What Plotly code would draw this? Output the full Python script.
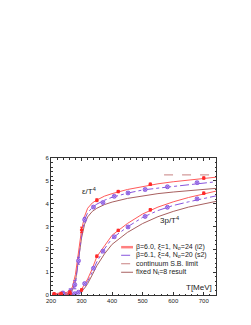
import plotly.graph_objects as go

# ---- data ----
T_red = [210, 233, 262, 300, 350, 420, 525, 700]
eps_red = [0.05, 0.07, 0.12, 2.85, 4.15, 4.53, 4.85, 5.12]
eps_red_err = [0.05, 0.05, 0.06, 0.12, 0.06, 0.05, 0.05, 0.05]
p_red = [0.0, 0.01, 0.03, 0.22, 1.70, 2.83, 3.73, 4.46]
p_red_err = [0.03, 0.03, 0.03, 0.05, 0.05, 0.05, 0.05, 0.05]

T_pur = [239, 263, 278, 290, 310, 339, 370, 407, 452, 508, 581, 678]
eps_pur = [0.08, 0.15, 0.45, 1.50, 3.30, 3.85, 4.05, 4.32, 4.47, 4.62, 4.74, 4.92]
eps_pur_err = [0.08, 0.12, 0.18, 0.15, 0.1, 0.06, 0.05, 0.05, 0.05, 0.05, 0.05, 0.05]
p_pur = [0.01, 0.03, 0.06, 0.12, 0.50, 1.17, 1.92, 2.55, 2.98, 3.44, 3.84, 4.21]
p_pur_err = [0.03, 0.03, 0.04, 0.04, 0.05, 0.05, 0.05, 0.05, 0.05, 0.05, 0.05, 0.05]

T_line = [205, 230, 250, 260, 270, 280, 290, 300, 310, 320, 335, 350, 375, 400, 450, 500, 550, 600, 650, 700, 740]
eps_red_line = [0.05, 0.07, 0.11, 0.16, 0.35, 0.9, 1.95, 2.85, 3.45, 3.8, 4.03, 4.16, 4.33, 4.44, 4.62, 4.76, 4.87, 4.96, 5.04, 5.11, 5.16]
eps_pur_line = [0.05, 0.07, 0.1, 0.14, 0.26, 0.5, 1.5, 2.6, 3.3, 3.6, 3.83, 3.98, 4.15, 4.28, 4.46, 4.6, 4.68, 4.75, 4.83, 4.9, 4.96]
eps_nt8_line = [0.02, 0.03, 0.05, 0.08, 0.2, 0.6, 1.5, 2.5, 3.1, 3.42, 3.66, 3.8, 3.96, 4.07, 4.23, 4.35, 4.44, 4.51, 4.57, 4.63, 4.67]
p_red_line = [0.0, 0.01, 0.02, 0.03, 0.05, 0.09, 0.15, 0.25, 0.45, 0.7, 1.15, 1.68, 2.15, 2.62, 3.13, 3.55, 3.85, 4.08, 4.27, 4.44, 4.55]
p_pur_line = [0.0, 0.01, 0.02, 0.03, 0.04, 0.07, 0.12, 0.2, 0.38, 0.6, 1.0, 1.45, 2.02, 2.48, 2.98, 3.4, 3.7, 3.92, 4.08, 4.24, 4.34]
p_nt8_line = [0.0, 0.0, 0.01, 0.02, 0.03, 0.05, 0.09, 0.16, 0.3, 0.5, 0.88, 1.28, 1.8, 2.22, 2.74, 3.13, 3.43, 3.66, 3.85, 4.0, 4.1]

T_sb = [570, 740]
eps_sb = [5.26, 5.26]

RED = "#ff2a2a"
RED_LINE = "#ff5a5a"
PUR = "#8855dd"
BROWN = "#a86060"
SB = "#c88080"

fig = go.Figure()

# lines
for y in (eps_nt8_line, p_nt8_line):
    fig.add_trace(go.Scatter(x=T_line, y=y, mode="lines", line=dict(color=BROWN, width=1), showlegend=False))
for y in (eps_pur_line, p_pur_line):
    fig.add_trace(go.Scatter(x=T_line, y=y, mode="lines", line=dict(color=PUR, width=1, dash="dashdot"), showlegend=False))
for y in (eps_red_line, p_red_line):
    fig.add_trace(go.Scatter(x=T_line, y=y, mode="lines", line=dict(color=RED_LINE, width=1), showlegend=False))
fig.add_trace(go.Scatter(x=T_sb, y=eps_sb, mode="lines", line=dict(color=SB, width=1, dash="dash"), showlegend=False))

# points
for y, e in ((eps_pur, eps_pur_err), (p_pur, p_pur_err)):
    fig.add_trace(go.Scatter(x=T_pur, y=y, mode="markers",
                             error_y=dict(type="data", array=e, color=PUR, thickness=1, width=1.5),
                             marker=dict(symbol="circle-x", size=4, color="#b79cf0", line=dict(color=PUR, width=0.8)),
                             showlegend=False))
for y, e in ((eps_red, eps_red_err), (p_red, p_red_err)):
    fig.add_trace(go.Scatter(x=T_red, y=y, mode="markers",
                             error_y=dict(type="data", array=e, color=RED, thickness=1, width=1.5),
                             marker=dict(symbol="circle", size=3.5, color=RED),
                             showlegend=False))

# custom legend
leg_rows = [0.349, 0.290, 0.228, 0.166]
leg_styles = [dict(color="#ff8080", width=2.5), dict(color=PUR, width=1, dash="dashdot"),
              dict(color=SB, width=1, dash="dash"), dict(color=BROWN, width=1)]
leg_text = ["β=6.0, ξ=1, N<sub>σ</sub>=24 (i2)", "β=6.1, ξ=4, N<sub>σ</sub>=20 (s2)",
            "continuum S.B. limit", "fixed N<sub>t</sub>=8 result"]
for yy, st, tx in zip(leg_rows, leg_styles, leg_text):
    fig.add_shape(type="line", xref="paper", yref="paper", x0=0.425, x1=0.497, y0=yy, y1=yy, line=st)
    fig.add_annotation(xref="paper", yref="paper", x=0.505, y=yy, text=tx, showarrow=False,
                       xanchor="left", yanchor="middle", font=dict(size=7, color="#222"))

fig.add_annotation(x=325, y=4.54, text="ε/T<sup>4</sup>", showarrow=False, font=dict(size=8, color="#222"))
fig.add_annotation(x=587, y=3.29, text="3p/T<sup>4</sup>", showarrow=False, font=dict(size=8, color="#222"))
fig.add_annotation(xref="paper", yref="paper", x=0.985, y=0.01, text="T[MeV]", showarrow=False,
                   xanchor="right", yanchor="bottom", font=dict(size=8, color="#222"))

axis_common = dict(showline=True, linecolor="#333", linewidth=1, mirror="ticks", ticks="inside",
                   ticklen=3, tickcolor="#333", showgrid=False, zeroline=False,
                   tickfont=dict(size=6, color="#222"))
fig.update_xaxes(range=[200, 740], dtick=100, tick0=200,
                 minor=dict(dtick=20, ticks="inside", ticklen=1.5, tickcolor="#333"), **axis_common)
fig.update_yaxes(range=[0, 6], dtick=1,
                 minor=dict(dtick=0.2, ticks="inside", ticklen=1.5, tickcolor="#333"), **axis_common)

fig.update_layout(width=251, height=325, margin=dict(l=43, r=43, t=150, b=38),
                  plot_bgcolor="white", paper_bgcolor="white",
                  font=dict(family="Liberation Sans, Arial, sans-serif"))
fig.write_html("out.html")
